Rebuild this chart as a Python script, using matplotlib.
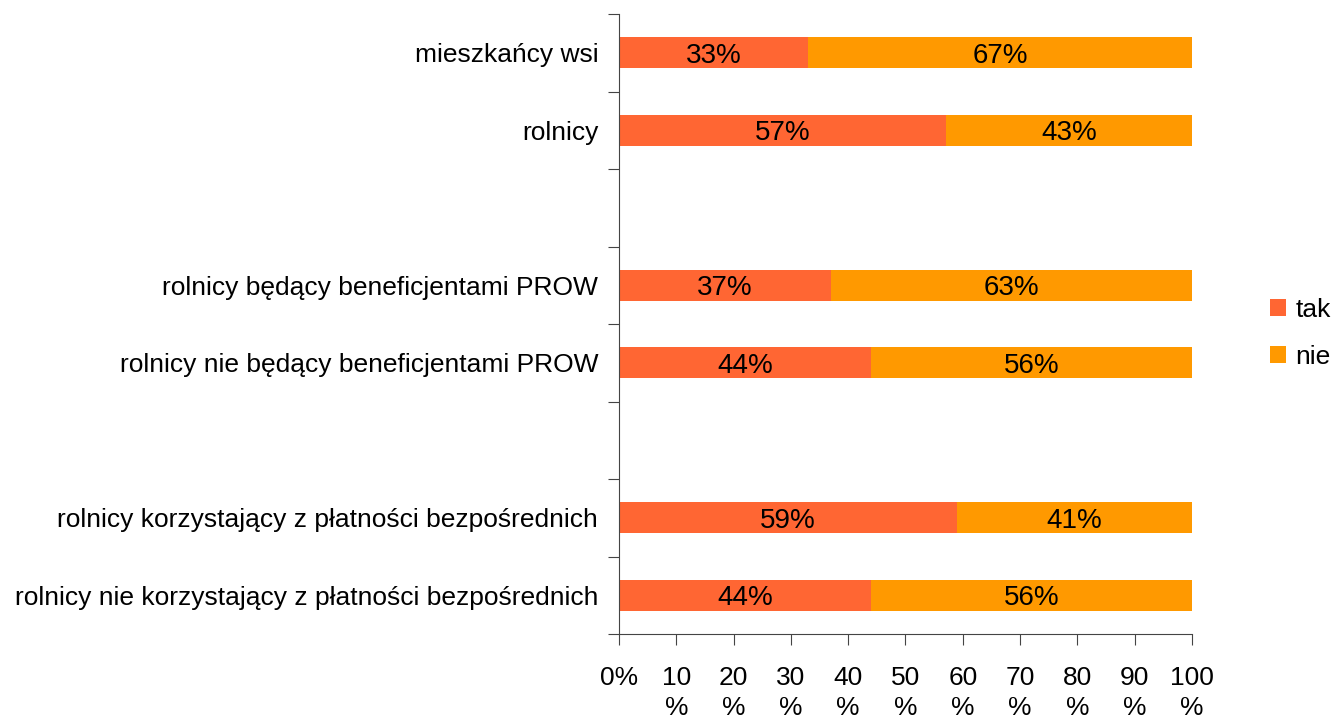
import numpy as np
import matplotlib.pyplot as plt

plt.rcParams['font.family'] = ['Liberation Sans', 'DejaVu Sans']

categories = ['mieszkańcy wsi', 'rolnicy', '',
              'rolnicy będący beneficjentami PROW',
              'rolnicy nie będący beneficjentami PROW', '',
              'rolnicy korzystający z płatności bezpośrednich',
              'rolnicy nie korzystający z płatności bezpośrednich']
tak = [33, 57, np.nan, 37, 44, np.nan, 59, 44]
nie = [67, 43, np.nan, 63, 56, np.nan, 41, 56]
xtick_labels = ['0%', '10\n%', '20\n%', '30\n%', '40\n%', '50\n%',
                '60\n%', '70\n%', '80\n%', '90\n%', '100\n%']

fig = plt.figure(figsize=(13.37, 7.19), dpi=100)
ax = fig.add_axes([0.463, 0.118, 0.4285, 0.8625])

y = np.arange(len(categories))
tak_arr = np.array(tak, dtype=float)
nie_arr = np.array(nie, dtype=float)
b1 = ax.barh(y, tak_arr, height=0.4, color='#FF6633', label='tak')
b2 = ax.barh(y, nie_arr, left=tak_arr, height=0.4, color='#FF9900', label='nie')

for i in range(len(categories)):
    if np.isnan(tak_arr[i]):
        continue
    ax.text(tak_arr[i] / 2, y[i], '%d%%' % tak_arr[i], ha='center', va='center_baseline', fontsize=20)
    ax.text(tak_arr[i] + nie_arr[i] / 2, y[i], '%d%%' % nie_arr[i], ha='center', va='center_baseline', fontsize=20)

ax.set_xlim(0, 100)
ax.set_ylim(len(categories) - 0.5, -0.5)

# major ticks at slot boundaries, labels on minor ticks at bar centres
ax.set_yticks(np.arange(-0.5, len(categories), 1))
ax.set_yticklabels([])
ax.set_yticks(y, minor=True)
ax.set_yticklabels(categories, minor=True, fontsize=19)
ax.tick_params(axis='y', which='major', length=8, color='#444444')
ax.tick_params(axis='y', which='minor', length=0, pad=15)

ax.set_xticks(np.arange(0, 101, 10))
ax.set_xticklabels(xtick_labels, fontsize=19, linespacing=1.3)
ax.tick_params(axis='x', length=8, pad=15, color='#444444')

for s in ['top', 'right']:
    ax.spines[s].set_visible(False)
ax.spines['left'].set_color('#444444')
ax.spines['bottom'].set_color('#444444')

ax.legend(handles=[b1, b2], loc='center left', bbox_to_anchor=(1.095, 0.485),
          frameon=False, fontsize=19, handlelength=0.6, handleheight=0.6,
          handletextpad=0.35, labelspacing=0.85)

fig.savefig('out.png', dpi=100)
